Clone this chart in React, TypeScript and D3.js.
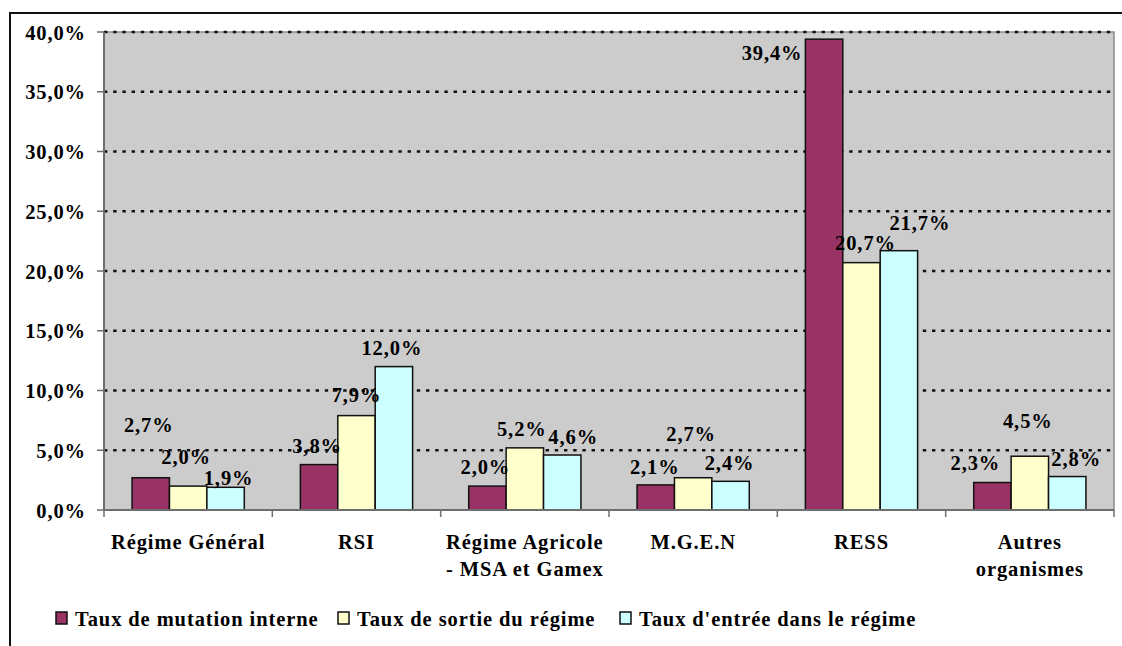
import React, { useEffect } from "react";
import * as d3 from "d3";

const categories: string[][] = [
  ["Régime Général"],
  ["RSI"],
  ["Régime Agricole", "- MSA et Gamex"],
  ["M.G.E.N"],
  ["RESS"],
  ["Autres", "organismes"],
];
const seriesNames = [
  "Taux de mutation interne",
  "Taux de sortie du régime",
  "Taux d'entrée dans le régime",
];
const mutationInterne = [2.7, 3.8, 2.0, 2.1, 39.4, 2.3];
const sortieRegime = [2.0, 7.9, 5.2, 2.7, 20.7, 4.5];
const entreeRegime = [1.9, 12.0, 4.6, 2.4, 21.7, 2.8];
const yTicks = [0, 5, 10, 15, 20, 25, 30, 35, 40];

// label nudges (dx, dy) relative to top-centre of each bar, per category, per series
const labelNudges: [number, number][][] = [
  [[-2, -53], [-2, -29], [3, -9]],
  [[-2, -19], [0, -21], [-2, -19]],
  [[-2, -19], [-3, -19], [11, -18]],
  [[-1, -18], [-2, -44], [-1, -18]],
  [[-52, 14], [4, -20], [21, -28]],
  [[-17, -20], [-2, -35], [9, -18]],
];

const colors = ["#993366", "#FFFFCC", "#CCFFFF"];
const FONT = "'Liberation Serif', 'Times New Roman', serif";
const FS = 20.5;
const LS = 0.9;
const fmt = (v: number) => v.toFixed(1).replace(".", ",") + "%";

export default function App() {
  useEffect(() => {
    document.body.style.margin = "0";
  }, []);

  const W = 1122;
  const H = 646;
  const left = 104;
  const right = 1114;
  const top = 32;
  const bottom = 510;

  const values = [mutationInterne, sortieRegime, entreeRegime];
  const idx = categories.map((_, i) => String(i));

  const x = d3.scaleBand<string>().domain(idx).range([left, right]).padding(0);
  const xs = d3
    .scaleBand<number>()
    .domain([0, 1, 2])
    .range([0, x.bandwidth()])
    .paddingInner(0)
    .paddingOuter(0.75);
  const y = d3.scaleLinear().domain([0, 40]).range([bottom, top]);

  const legendX = [56, 338, 620];

  return (
    <svg width={W} height={H} style={{ display: "block" }} fontFamily={FONT} fontWeight="bold" letterSpacing={LS}>
      <rect x={0} y={0} width={W} height={H} fill="#fff" />
      {/* outer frame */}
      <rect x={10} y={13} width={W} height={H} fill="none" stroke="#111" strokeWidth={2} />
      {/* plot area */}
      <rect x={left} y={top} width={right - left} height={bottom - top} fill="#cccccc" stroke="#8c8c8c" strokeWidth={1.5} />
      {/* grid */}
      {yTicks.filter((t) => t > 0).map((t) => (
        <line key={"g" + t} x1={left} x2={right} y1={y(t)} y2={y(t)} stroke="#111" strokeWidth={2.6} strokeDasharray="3.4 5.8" />
      ))}
      {/* bars */}
      {idx.map((c, ci) =>
        values.map((vals, si) => {
          const bx = (x(c) as number) + (xs(si) as number);
          return (
            <rect
              key={c + "-" + si}
              x={bx}
              y={y(vals[ci])}
              width={xs.bandwidth()}
              height={y(0) - y(vals[ci])}
              fill={colors[si]}
              stroke="#111"
              strokeWidth={1.5}
            />
          );
        })
      )}
      {/* axes */}
      <line x1={left} x2={left} y1={top} y2={bottom} stroke="#6e6e6e" strokeWidth={2} />
      <line x1={left} x2={right} y1={bottom} y2={bottom} stroke="#6e6e6e" strokeWidth={2} />
      {yTicks.map((t) => (
        <g key={"yt" + t}>
          <line x1={left - 7} x2={left} y1={y(t)} y2={y(t)} stroke="#6e6e6e" strokeWidth={1.5} />
          <text x={86} y={y(t) + 7.5} textAnchor="end" fontSize={FS} fill="#000">
            {fmt(t)}
          </text>
        </g>
      ))}
      {idx.map((c) => (
        <line key={"xt" + c} x1={(x(c) as number) + x.bandwidth()} x2={(x(c) as number) + x.bandwidth()} y1={bottom} y2={bottom + 7} stroke="#6e6e6e" strokeWidth={1.5} />
      ))}
      <line x1={left} x2={left} y1={bottom} y2={bottom + 7} stroke="#6e6e6e" strokeWidth={1.5} />
      {/* category labels */}
      {categories.map((lines, ci) => (
        <text key={"cl" + ci} x={(x(String(ci)) as number) + x.bandwidth() / 2} y={549} textAnchor="middle" fontSize={FS} fill="#000">
          {lines.map((l, li) => (
            <tspan key={li} x={(x(String(ci)) as number) + x.bandwidth() / 2} dy={li === 0 ? 0 : 27}>
              {l}
            </tspan>
          ))}
        </text>
      ))}
      {/* data labels */}
      {idx.map((c, ci) =>
        values.map((vals, si) => {
          const cx = (x(c) as number) + (xs(si) as number) + xs.bandwidth() / 2;
          const [dx, dy] = labelNudges[ci][si];
          return (
            <text key={"dl" + c + si} x={cx + dx} y={y(vals[ci]) + dy + 7} textAnchor="middle" fontSize={FS} fill="#000">
              {fmt(vals[ci])}
            </text>
          );
        })
      )}
      {/* legend */}
      {seriesNames.map((n, i) => (
        <g key={"lg" + i}>
          <rect x={legendX[i]} y={612} width={11} height={12} fill={colors[i]} stroke="#111" strokeWidth={1.5} />
          <text x={legendX[i] + 19} y={626} fontSize={FS} fill="#000">
            {n}
          </text>
        </g>
      ))}
    </svg>
  );
}
